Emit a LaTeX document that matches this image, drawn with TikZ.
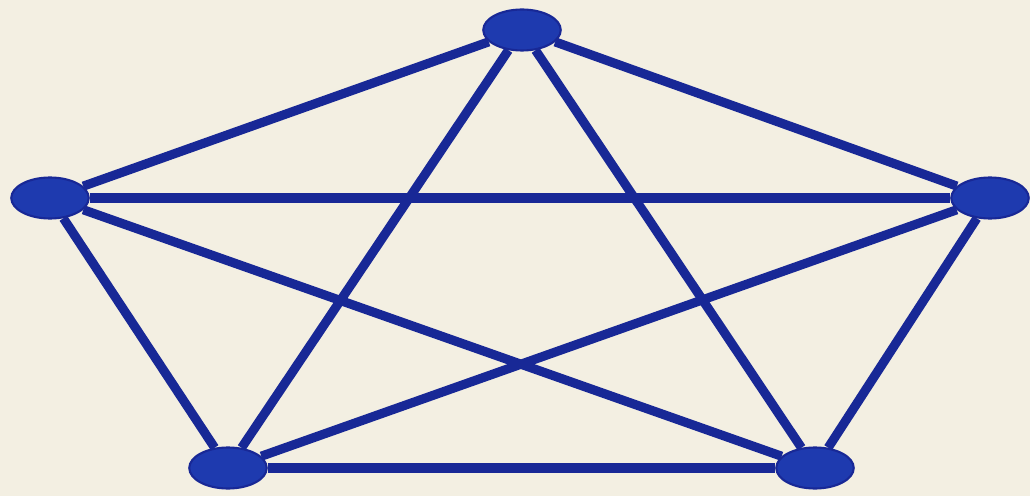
\documentclass[tikz,border=0pt]{standalone}
\usetikzlibrary{shapes.geometric}
\definecolor{papercream}{RGB}{243,239,226}
\definecolor{edgeblue}{RGB}{24,40,150}
\definecolor{vertexblue}{RGB}{30,58,175}
\tikzset{
    vertex/.style={ellipse, fill=vertexblue, draw=edgeblue, line width=1.2pt, minimum width=1.55cm, minimum height=0.82cm, inner sep=0pt},
    edge/.style={edgeblue, line width=5.2pt}
}
\begin{document}
\begin{tikzpicture}[x=0.02cm, y=-0.02cm]
            \fill[papercream] (0,0) rectangle (1030,496);
            \node[vertex] (top) at (522,30) {};
            \node[vertex] (left) at (50,198) {};
            \node[vertex] (right) at (990,198) {};
            \node[vertex] (bottomleft) at (228,468) {};
            \node[vertex] (bottomright) at (815,468) {};
            \foreach \a/\b in {top/left, top/right, top/bottomleft, top/bottomright, left/right, left/bottomleft, left/bottomright, right/bottomleft, right/bottomright, bottomleft/bottomright}
                \draw[edge] (\a) -- (\b);
        \end{tikzpicture}
\end{document}
